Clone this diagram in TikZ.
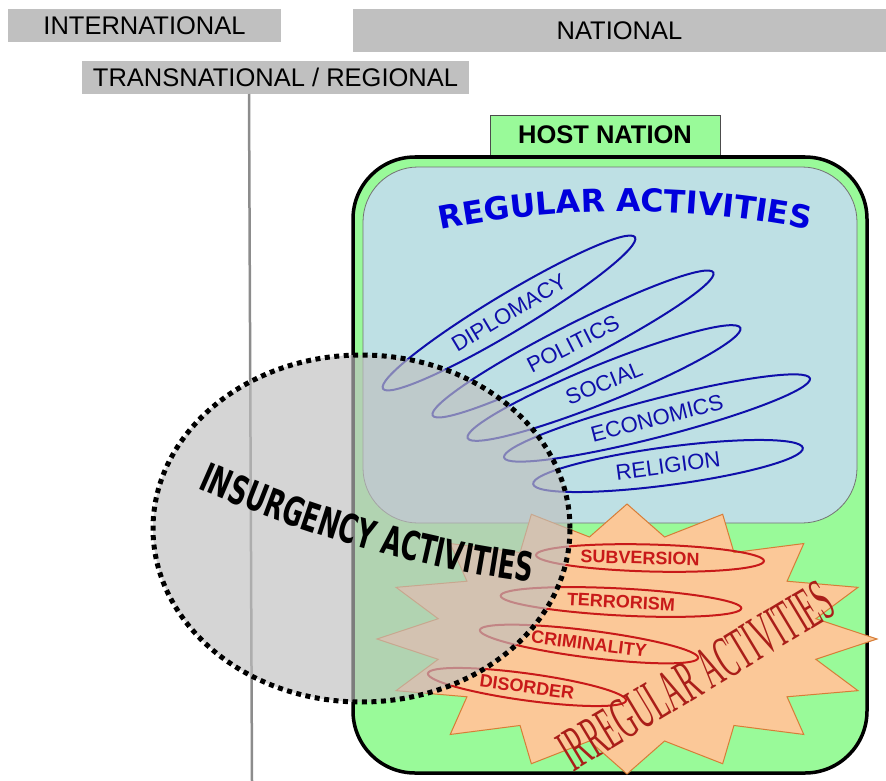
\documentclass[tikz,border=0pt]{standalone}
\usepackage{fontspec}
\setmainfont{Liberation Sans}
\newfontfamily\narrowserif[FakeStretch=0.45]{Liberation Serif}
\newfontfamily\heavysans[FakeStretch=0.63]{DejaVu Sans}
\newfontfamily\titlesans{DejaVu Sans}
\usetikzlibrary{shapes.geometric,decorations.text}

\definecolor{bargray}{RGB}{192,192,192}
\definecolor{hostgreen}{RGB}{153,250,153}
\definecolor{regblue}{RGB}{190,224,228}
\definecolor{inkblue}{RGB}{15,15,170}
\definecolor{titleblue}{RGB}{0,0,220}
\definecolor{inkred}{RGB}{200,25,25}
\definecolor{burstfill}{RGB}{251,200,152}
\definecolor{burstline}{RGB}{215,125,55}
\definecolor{irregred}{RGB}{170,30,25}

\begin{document}
\begin{tikzpicture}[x=1pt,y=-1pt,
                    bar/.style={fill=bargray, inner sep=0pt, font=\fontsize{25.5}{26}\selectfont},
                    blueloop/.style={ellipse, draw=inkblue, line width=2pt, inner sep=0pt,
                                     minimum height=38pt, text=inkblue, font=\fontsize{22}{22}\selectfont},
                    redloop/.style={ellipse, draw=inkred, line width=2pt, inner sep=0pt,
                                    minimum height=27pt, text=inkred, font=\bfseries\fontsize{18}{18}\selectfont}]

  \tikzstyle{divider} = [draw=black!45, line width=2.5pt]
  \tikzstyle{burst}   = [fill=burstfill, draw=burstline, line width=1pt, line join=miter]
  \useasboundingbox (0,0) rectangle (886,781);

  \node[bar, minimum width=273pt, minimum height=33pt] (intl)     at (144.5,25.5) {INTERNATIONAL};
  \node[bar, minimum width=533pt, minimum height=43pt] (national) at (619.5,30.5) {NATIONAL};
  \node[bar, minimum width=387pt, minimum height=33pt] (transreg) at (275.5,77.5) {TRANSNATIONAL / REGIONAL};

  \coordinate (divtop)  at (249,94);
  \coordinate (divfoot) at (252,781);
  \draw[divider] (divtop) -- (divfoot);

  \node[draw=black!70, line width=0.8pt, fill=hostgreen, minimum width=230pt, minimum height=40pt,
        font=\bfseries\fontsize{25.5}{26}\selectfont] (hostnation) at (605,135) {HOST NATION};
  \node[draw=black, line width=3.5pt, fill=hostgreen, rounded corners=62pt,
        minimum width=514pt, minimum height=616pt] (hostbox) at (610,465) {};
  \node[draw=black!55, line width=0.8pt, fill=regblue, rounded corners=55pt,
        minimum width=494pt, minimum height=356pt] (regular) at (610,345) {};

  \path[decorate, decoration={text along path, text align=center,
        text={|\color{titleblue}\titlesans\bfseries\fontsize{31.5}{32}\selectfont|REGULAR ACTIVITIES}}]
        (420,234) .. controls (552,204) and (698,204) .. (830,234);

  \node[blueloop, minimum width=294pt, rotate=31]   (diplomacy) at (509,313) {DIPLOMACY};
  \node[blueloop, minimum width=315pt, rotate=27]   (politics)  at (573,344) {POLITICS};
  \node[blueloop, minimum width=294pt, rotate=22]   (social)    at (604,383) {SOCIAL};
  \node[blueloop, minimum width=316pt, rotate=14.5] (economics) at (657,418) {ECONOMICS};
  \node[blueloop, minimum width=272pt, rotate=7.6]  (religion)  at (668,466) {RELIGION};

  % sixteen point burst
  \draw[burst] (877,639) \foreach \k in {0,...,15} {
      -- ({627+192.5*cos(22.5*\k+11.25)},{639-104*sin(22.5*\k+11.25)})
      -- ({627+250*cos(22.5*\k+22.5)},{639-135*sin(22.5*\k+22.5)}) } -- cycle;

  \node[redloop, minimum width=228pt, rotate=-1.5] (subversion)  at (650,558) {SUBVERSION\hspace*{20pt}};
  \node[redloop, minimum width=241pt, rotate=-3]   (terrorism)   at (621,602) {TERRORISM};
  \node[redloop, minimum width=220pt, rotate=-7.3] (criminality) at (589,644) {CRIMINALITY};
  \node[redloop, minimum width=200pt, rotate=-7.8] (disorder)    at (527,687) {DISORDER};

  \node[rotate=31, inner sep=0pt, text=irregred, font=\narrowserif\fontsize{60}{60}\selectfont]
        (irregular) at (696,676) {IRREGULAR ACTIVITIES};

  \node[ellipse, fill=black!25, fill opacity=0.65, draw=black, line width=5pt,
        dash pattern=on 5pt off 4.5pt, minimum width=417pt, minimum height=347pt]
        (insurgency) at (361.5,528.5) {};
  \path[decorate, decoration={text along path, text align=center,
        text={|\color{black}\heavysans\bfseries\fontsize{40}{40}\selectfont|INSURGENCY ACTIVITIES}}]
        (184,482) .. controls (300,535) and (420,570) .. (546,584);

\end{tikzpicture}
\end{document}
